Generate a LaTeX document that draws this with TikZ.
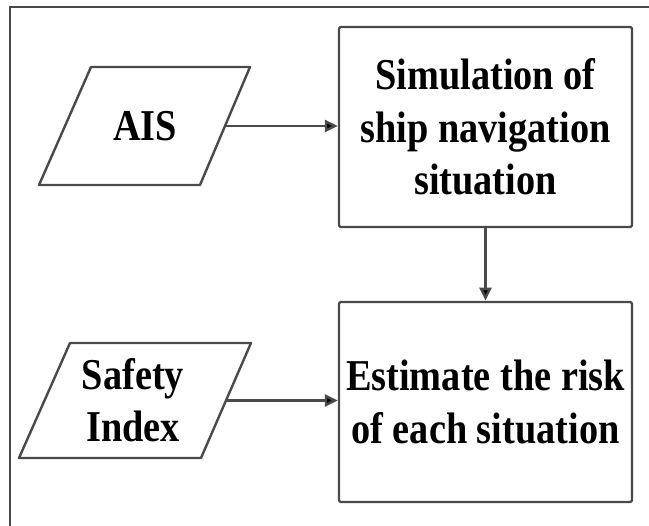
\documentclass[tikz,border=0pt]{standalone}
\usepackage{fontspec}
\setmainfont{Liberation Serif}
\usetikzlibrary{arrows.meta,calc}
\definecolor{edge}{HTML}{4A4A4A}
\tikzset{
  shapeline/.style={draw=edge, line width=2.4pt, line join=round},
  label/.style={inner sep=0pt, align=center, yscale=1.15, transform shape,
    font=\bfseries\fontsize{38.3}{45.6}\selectfont},
  procbox/.style={shapeline, rectangle, rounded corners=1.5pt, minimum width=293pt, minimum height=173.9pt},
  flow/.style={draw=edge, line width=2.4pt, -{Triangle[length=13pt,width=12pt,fill=black]}},
}
\begin{document}
\begin{tikzpicture}[x=1pt,y=-1pt]
  \useasboundingbox (0,0) rectangle (649,526);
  % outer frame, open to the right and bottom
  \draw[edge, line width=2.4pt] (10,530) -- (10,7) -- (655,7);

  % process boxes
  \node[label, procbox] (sim) at (485.5,127) {Simulation of\\ship navigation\\situation};
  \node[label, procbox] (risk) at (485.5,402) {Estimate the risk\\of each situation};

  % input parallelograms
  \coordinate (ais-tl) at (91,67);
  \coordinate (ais-tr) at (250,67);
  \coordinate (ais-br) at (200,185);
  \coordinate (ais-bl) at (39,185);
  \draw[shapeline] (ais-tl) -- (ais-tr) -- (ais-br) -- (ais-bl) -- cycle;
  \node[label] (ais) at (145,126) {AIS};

  \coordinate (sf-tl) at (70,343);
  \coordinate (sf-tr) at (251,343);
  \coordinate (sf-br) at (201,458);
  \coordinate (sf-bl) at (19,458);
  \draw[shapeline] (sf-tl) -- (sf-tr) -- (sf-br) -- (sf-bl) -- cycle;
  \node[label] (safety) at (133,400) {Safety\\Index};

  % connectors
  \coordinate (ais-out) at ($(ais-tr)!0.5!(ais-br)$);
  \coordinate (sf-out) at ($(sf-tr)!0.5!(sf-br)$);
  \draw[flow] (ais-out) -- (ais-out -| sim.west);
  \draw[flow] (sf-out) -- (sf-out -| risk.west);
  \draw[flow] (sim.south) -- (risk.north);
\end{tikzpicture}
\end{document}
